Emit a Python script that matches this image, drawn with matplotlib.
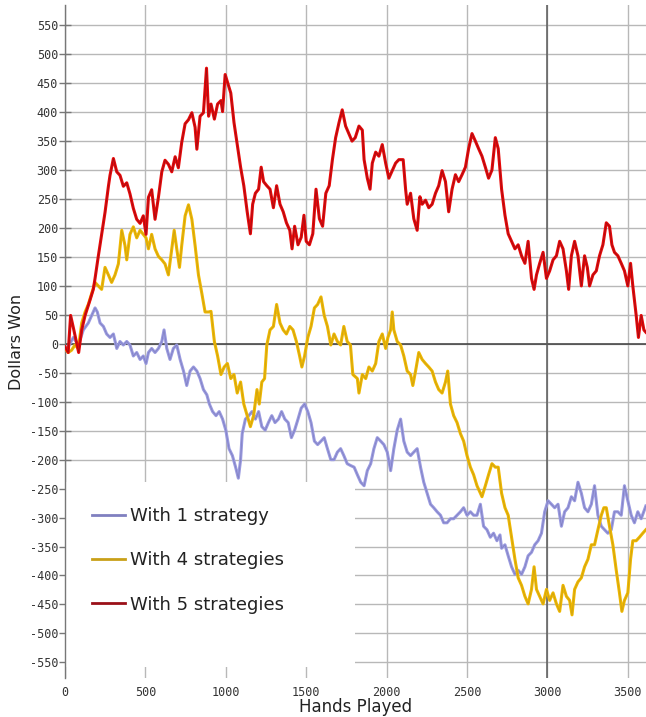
import matplotlib
matplotlib.use("Agg")
import matplotlib.pyplot as plt
from matplotlib.patches import Rectangle

plt.rcParams['axes.unicode_minus'] = False

# ---- data (hands played, dollars won) ----
hands_1 = [0, 20, 52, 83, 114, 145, 166, 187, 201, 218, 239, 259, 280, 301, 322, 342, 363, 384,
           404, 425, 446, 467, 487, 504, 519, 539, 560, 581, 602, 616, 633, 653, 674, 695, 716,
           737, 757, 778, 799, 820, 840, 861, 882, 898, 918, 939, 959, 980, 1000, 1020, 1041,
           1061, 1078, 1092, 1102, 1122, 1143, 1163, 1184, 1204, 1224, 1245, 1265, 1286, 1306,
           1327, 1347, 1367, 1388, 1408, 1428, 1449, 1469, 1490, 1510, 1530, 1551, 1571, 1592,
           1612, 1632, 1653, 1673, 1694, 1714, 1734, 1755, 1775, 1798, 1818, 1839, 1860, 1880,
           1901, 1921, 1942, 1963, 1983, 2004, 2025, 2045, 2066, 2087, 2107, 2128, 2149, 2169,
           2190, 2211, 2231, 2252, 2273, 2293, 2314, 2335, 2355, 2376, 2397, 2417, 2438, 2459,
           2479, 2500, 2521, 2541, 2562, 2583, 2603, 2624, 2645, 2665, 2686, 2705, 2715, 2736,
           2756, 2777, 2798, 2818, 2839, 2860, 2880, 2901, 2921, 2942, 2963, 2983, 3004, 3025,
           3045, 3066, 3087, 3107, 3128, 3149, 3169, 3190, 3211, 3231, 3252, 3273, 3293, 3314,
           3335, 3355, 3376, 3397, 3417, 3438, 3459, 3479, 3500, 3521, 3541, 3562, 3583, 3612]
won_1 = [-8, -5, 11, -2, 24, 36, 49, 62, 55, 36, 30, 17, 11, 17, -8, 4, -2, 4,
         -2, -21, -15, -27, -21, -34, -15, -8, -15, -8, 4, 24, -8, -27, -8, -2, -27,
         -47, -72, -47, -40, -47, -60, -79, -88, -104, -117, -124, -117, -130, -149, -181, -193,
         -213, -232, -200, -155, -130, -124, -117, -130, -117, -143, -149, -136, -124, -136,
         -130, -117, -130, -136, -162, -149, -130, -111, -104, -117, -136, -168, -174, -168,
         -162, -181, -200, -200, -187, -181, -193, -207, -210, -213, -226, -239, -245, -219,
         -207, -181, -162, -168, -174, -187, -219, -181, -149, -130, -168, -187, -193, -187,
         -181, -213, -239, -258, -277, -283, -290, -296, -309, -309, -302, -302, -296, -290,
         -283, -296, -290, -296, -296, -277, -315, -321, -334, -327, -340, -330, -353, -347,
         -366, -385, -398, -391, -398, -385, -366, -360, -347, -340, -327, -290, -271, -277,
         -283, -277, -315, -290, -283, -264, -271, -239, -258, -283, -290, -277, -245, -296,
         -315, -321, -327, -321, -290, -290, -296, -245, -271, -296, -309, -290, -302, -280]

hands_4 = [0, 20, 41, 62, 83, 104, 125, 145, 166, 187, 207, 228, 249, 270, 290, 311, 332, 353,
           373, 384, 404, 425, 446, 467, 487, 504, 519, 539, 560, 581, 602, 622, 643, 664, 679,
           695, 712, 726, 747, 768, 789, 809, 830, 851, 871, 892, 908, 929, 949, 970, 990, 1010,
           1031, 1051, 1071, 1092, 1112, 1133, 1153, 1173, 1194, 1208, 1224, 1241, 1255, 1275,
           1296, 1316, 1337, 1357, 1377, 1398, 1418, 1439, 1459, 1473, 1490, 1510, 1530, 1551,
           1571, 1592, 1612, 1632, 1653, 1673, 1694, 1714, 1734, 1755, 1775, 1790, 1818, 1828,
           1849, 1870, 1890, 1911, 1932, 1952, 1973, 1994, 2008, 2025, 2035, 2045, 2066, 2087,
           2107, 2128, 2149, 2163, 2180, 2200, 2221, 2242, 2262, 2283, 2304, 2324, 2345, 2366,
           2380, 2397, 2417, 2438, 2459, 2479, 2500, 2521, 2541, 2562, 2583, 2593, 2614, 2634,
           2655, 2676, 2694, 2715, 2736, 2756, 2777, 2798, 2818, 2839, 2860, 2880, 2901, 2917,
           2932, 2952, 2973, 2994, 3014, 3035, 3056, 3076, 3097, 3118, 3138, 3153, 3169, 3190,
           3211, 3231, 3252, 3273, 3293, 3314, 3335, 3351, 3366, 3386, 3407, 3428, 3448, 3463,
           3479, 3500, 3517, 3531, 3552, 3572, 3593, 3612]
won_4 = [-8, -15, -11, -2, -8, 36, 55, 68, 87, 106, 100, 94, 132, 119, 106, 119, 138, 196,
         170, 145, 189, 202, 183, 196, 189, 183, 164, 189, 164, 151, 145, 138, 119, 164, 196,
         164, 132, 170, 221, 240, 215, 170, 119, 87, 55, 55, 56, 4, -21, -53, -40, -34,
         -60, -53, -85, -66, -104, -124, -143, -124, -79, -104, -66, -60, -2, 24,
         30, 68, 36, 24, 17, 30, 24, 4, -21, -40, -21, 11, 30, 62,
         68, 81, 49, 30, -2, 17, 4, -2, 30, 4, -2, -53, -60, -85,
         -53, -60, -40, -47, -34, 4, 17, -8, 11, 24, 55, 24, 4, -2,
         -21, -47, -53, -72, -47, -15, -27, -34, -40, -47, -66, -79, -85, -66,
         -47, -104, -124, -136, -155, -168, -193, -213, -226, -245, -258, -264, -245, -226,
         -207, -213, -213, -258, -283, -296, -334, -372, -404, -417, -436, -449, -424, -385,
         -424, -436, -449, -424, -443, -430, -449, -462, -417, -436, -443, -468, -424, -411,
         -404, -385, -372, -347, -347, -321, -296, -283, -283, -315, -347, -391, -430, -462,
         -443, -430, -372, -340, -340, -334, -327, -321]

hands_5 = [0, 20, 35, 55, 75, 85, 104, 125, 155, 176, 187, 207, 228, 249, 270, 280, 301, 322,
           342, 363, 384, 404, 425, 446, 467, 487, 504, 519, 539, 560, 581, 602, 622, 643, 664,
           685, 705, 726, 747, 768, 789, 809, 820, 840, 861, 880, 893, 908, 929, 949, 970, 980,
           996, 1010, 1031, 1051, 1071, 1092, 1112, 1133, 1153, 1167, 1184, 1204, 1220, 1235,
           1255, 1275, 1296, 1316, 1337, 1357, 1377, 1398, 1412, 1428, 1449, 1469, 1486, 1500,
           1520, 1541, 1561, 1582, 1602, 1622, 1643, 1663, 1683, 1704, 1724, 1745, 1765, 1785,
           1805, 1828, 1849, 1860, 1880, 1897, 1911, 1932, 1952, 1973, 1994, 2014, 2035, 2056,
           2076, 2103, 2118, 2128, 2149, 2169, 2190, 2207, 2221, 2242, 2262, 2283, 2304, 2324,
           2345, 2366, 2386, 2407, 2428, 2448, 2469, 2490, 2510, 2531, 2552, 2572, 2593, 2614,
           2634, 2655, 2676, 2694, 2715, 2736, 2756, 2777, 2798, 2818, 2839, 2860, 2880, 2901,
           2917, 2932, 2952, 2973, 2994, 3014, 3035, 3056, 3076, 3097, 3118, 3132, 3149, 3169,
           3190, 3211, 3231, 3248, 3262, 3283, 3304, 3324, 3345, 3366, 3386, 3401, 3417, 3438,
           3459, 3479, 3500, 3517, 3531, 3552, 3566, 3583, 3600, 3612]
won_5 = [-5, -15, 49, 24, -2, -15, 24, 49, 75, 94, 113, 151, 189, 227, 272, 291, 320, 297,
         291, 272, 278, 259, 234, 215, 208, 221, 189, 253, 266, 215, 253, 297, 317, 310, 297,
         323, 304, 348, 380, 387, 399, 374, 336, 393, 399, 476, 393, 414, 388, 414, 420, 401,
         465, 452, 433, 382, 344, 305, 273, 228, 190, 241, 260, 267, 305, 280,
         273, 267, 235, 273, 241, 228, 209, 196, 164, 203, 171, 184, 222, 177,
         171, 190, 267, 216, 203, 260, 273, 318, 356, 382, 404, 376, 363, 350,
         356, 376, 369, 318, 286, 267, 312, 331, 324, 344, 312, 286, 299, 312,
         318, 318, 267, 241, 260, 216, 196, 254, 241, 248, 235, 241, 260, 273,
         299, 280, 228, 267, 292, 280, 292, 305, 337, 363, 350, 337, 324, 305,
         286, 300, 356, 337, 267, 222, 190, 177, 164, 171, 152, 139, 177, 113,
         94, 119, 139, 158, 113, 126, 145, 152, 177, 164, 126, 94, 152, 177,
         152, 100, 152, 132, 100, 119, 126, 152, 171, 209, 203, 171, 158, 152,
         139, 126, 100, 139, 100, 49, 11, 49, 24, 20]

labels = ["With 1 strategy", "With 4 strategies", "With 5 strategies"]
y_ticks = list(range(-550, 551, 50))
x_ticks = [0, 500, 1000, 1500, 2000, 2500, 3000, 3500]

fig = plt.figure(figsize=(6.46, 7.17), dpi=100)
ax = fig.add_axes([0.1006, 0.0544, 0.8994, 0.9386])

# light band + thin darker core to mimic the jagged traces
ax.plot(hands_1, won_1, color="#9a9ae0", linewidth=2.2, zorder=2)
ax.plot(hands_1, won_1, color="#8080c0", linewidth=0.5, zorder=2.1, label=labels[0])
ax.plot(hands_4, won_4, color="#f0b800", linewidth=2.2, zorder=3)
ax.plot(hands_4, won_4, color="#c9a018", linewidth=0.5, zorder=3.1, label=labels[1])
ax.plot(hands_5, won_5, color="#e80808", linewidth=2.2, zorder=4)
ax.plot(hands_5, won_5, color="#9a1018", linewidth=0.5, zorder=4.1, label=labels[2])

ax.set_xlim(0, 3613)
ax.set_ylim(-577, 585)
ax.set_xticks(x_ticks)
ax.set_yticks(y_ticks)

ax.set_axisbelow(True)
ax.grid(True, color="#b8b8b8", linewidth=1.0)
ax.axhline(0, color="#3c3c3c", linewidth=1.1, zorder=1.5)
ax.axvline(3000, color="#5a5a5a", linewidth=1.1, zorder=1.5)

for side in ["top", "right", "bottom"]:
    ax.spines[side].set_visible(False)
ax.spines["left"].set_color("#777777")
ax.spines["left"].set_linewidth(1.0)

ax.tick_params(axis="y", direction="inout", length=8, width=1, color="#777777",
               pad=1, labelsize=8.5, labelcolor="#333333")
ax.tick_params(axis="x", length=0, pad=6, labelsize=8.5, labelcolor="#333333")
for lab in ax.get_xticklabels() + ax.get_yticklabels():
    lab.set_family("DejaVu Sans Mono")

ax.set_xlabel("Hands Played", fontsize=12, color="#222222", labelpad=-1)
ax.set_ylabel("Dollars Won", fontsize=11.5, color="#222222", labelpad=4)

# white block behind the legend (hides the grid there)
ax.add_patch(Rectangle((0, 0.016), 0.5, 0.275, transform=ax.transAxes,
                       facecolor="white", edgecolor="none", zorder=1))

leg = ax.legend(loc="upper left", bbox_to_anchor=(0.0465, 0.2541), frameon=False,
                fontsize=13, handlelength=1.8, handletextpad=0.3, labelspacing=1.46,
                borderpad=0, borderaxespad=0)
for line in leg.get_lines():
    line.set_linewidth(2.0)
for text in leg.get_texts():
    text.set_color("#222222")

fig.savefig("out.png", dpi=100)
